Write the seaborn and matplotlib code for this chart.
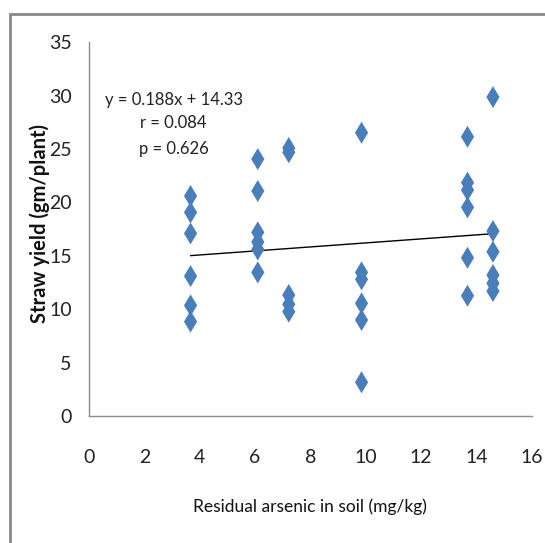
import numpy as np
import pandas as pd
import matplotlib
matplotlib.use("Agg")
import matplotlib.pyplot as plt
from matplotlib.patches import Rectangle
import seaborn as sns

# residual arsenic (mg/kg) and straw yield (gm/plant)
arsenic = [3.67] * 6 + [6.1] * 6 + [7.22] * 5 + [9.85] * 6 + [13.68] * 6 + [14.6] * 6
straw_yield = [20.6, 19.07, 17.1, 13.1, 10.36, 8.84,
               24.06, 21.07, 17.2, 16.3, 15.6, 13.45,
               25.1, 24.7, 11.33, 10.46, 9.77,
               26.53, 13.45, 12.8, 10.55, 8.99, 3.16,
               26.15, 21.85, 21.16, 19.54, 14.82, 11.26,
               29.87, 17.32, 15.38, 13.2, 12.43, 11.7]

slope = 0.188
intercept = 14.33
stats_text = ["y = 0.188x + 14.33", "r = 0.084", "p = 0.626"]

x_ticks = list(range(0, 17, 2))
y_ticks = list(range(0, 36, 5))

df = pd.DataFrame({"arsenic": arsenic, "straw": straw_yield})

sns.set_style("white")
plt.rcParams["font.family"] = ["Lato", "DejaVu Sans"]

fig = plt.figure(figsize=(5.45, 5.43), dpi=100)
ax = fig.add_axes([0.1633, 0.2339, 0.8123, 0.6882])

sns.scatterplot(data=df, x="arsenic", y="straw", marker="d", s=125,
                color="#4A7EBB", edgecolor="none", ax=ax, zorder=3)

# trend line over the data range
xl = np.array([min(arsenic), max(arsenic)])
ax.plot(xl, slope * xl + intercept, color="black", lw=1.0, zorder=2)

ax.set_xlim(0, 16)
ax.set_ylim(0, 35)
ax.set_xticks(x_ticks)
ax.set_yticks(y_ticks)
ax.tick_params(axis="x", length=5, width=1, color="#8c8c8c", pad=19,
               labelsize=14, labelcolor="#222222")
ax.tick_params(axis="y", length=4.5, width=1, color="#8c8c8c", pad=8,
               labelsize=14, labelcolor="#222222")
for s in ["top", "right"]:
    ax.spines[s].set_visible(False)
for s in ["left", "bottom"]:
    ax.spines[s].set_color("#8c8c8c")
    ax.spines[s].set_linewidth(1)

ax.set_xlabel("Residual arsenic in soil (mg/kg)", fontsize=12.5, color="#111111",
              va="center")
ax.xaxis.set_label_coords(0.498, -0.243)
ax.set_ylabel("Straw yield (gm/plant)", fontsize=14.5, fontweight="bold",
              color="#111111", va="center")
ax.yaxis.set_label_coords(-0.111, 0.516)

for txt, ty in zip(stats_text, [29.6, 27.46, 25.0]):
    ax.text(3.06, ty, txt, ha="center", va="center", fontsize=12,
            color="#222222")

# outer chart-area frame
fig.patches.append(Rectangle((10 / 545, -0.1), 1.2, 1 - 14 / 543 + 0.1,
                             transform=fig.transFigure, fill=False,
                             edgecolor="#8a8a8a", lw=2))

fig.savefig("out.png", dpi=100)
